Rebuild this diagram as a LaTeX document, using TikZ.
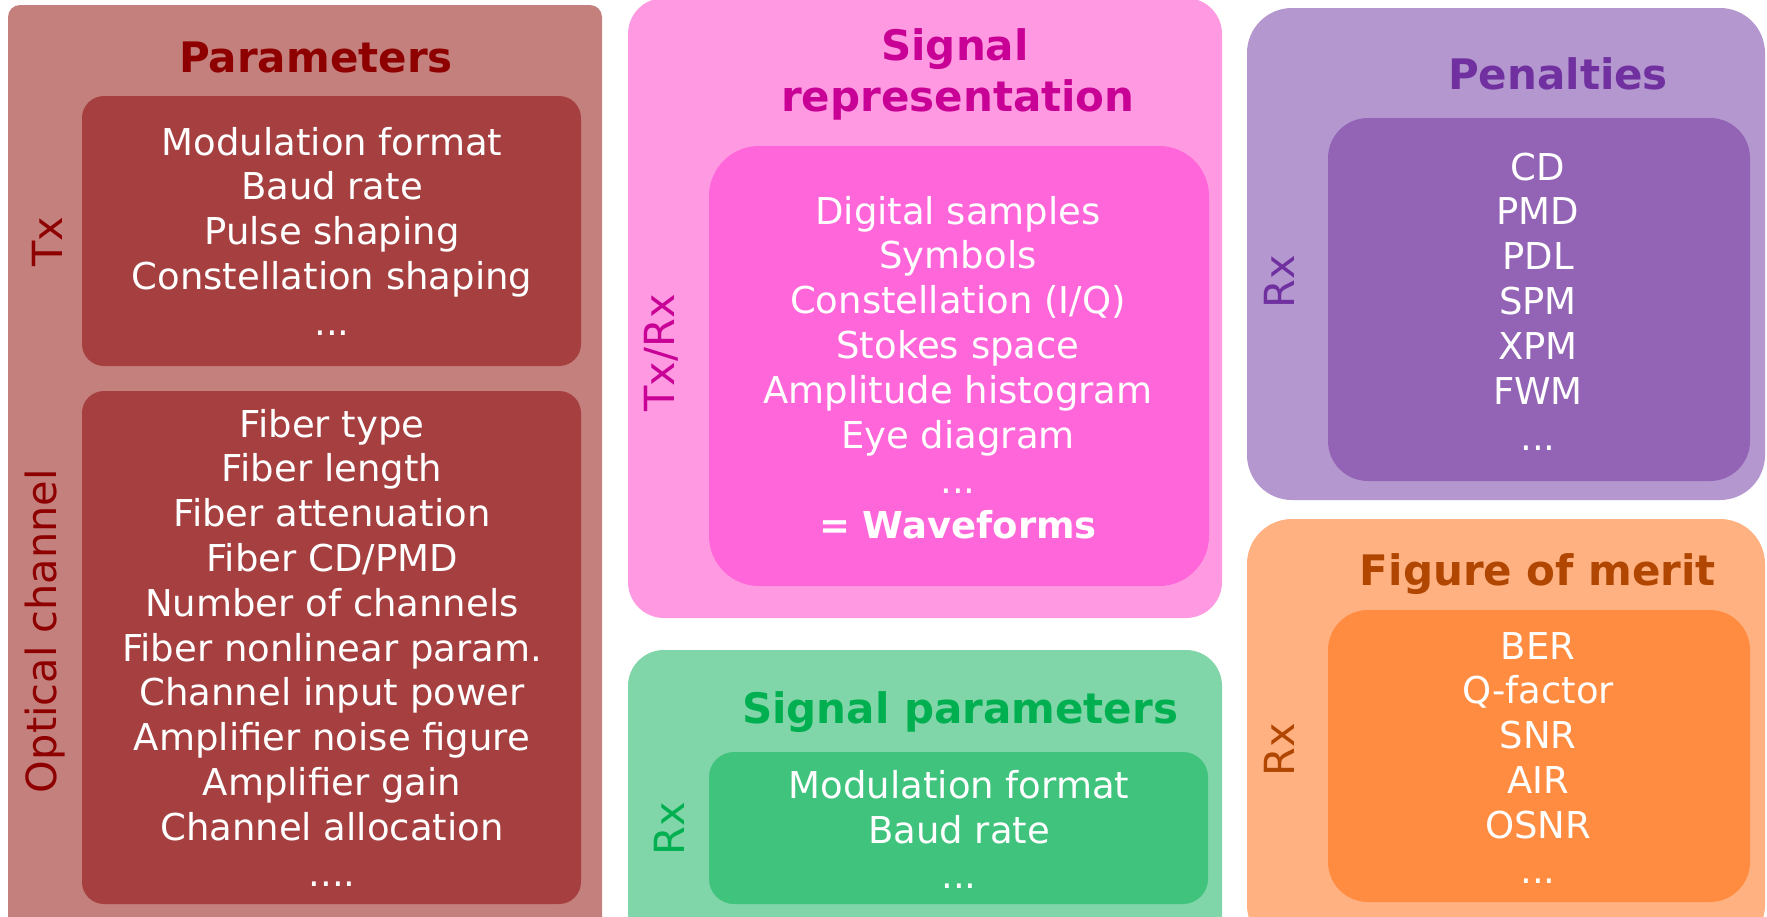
\documentclass[tikz,border=0pt]{standalone}
\usepackage{fontspec}
\setmainfont{DejaVu Sans}
\definecolor{pOut}{HTML}{C4807D}
\definecolor{pIn}{HTML}{A63F40}
\definecolor{pTxt}{HTML}{8E0000}
\definecolor{sOut}{HTML}{FF9AE2}
\definecolor{sIn}{HTML}{FF66D9}
\definecolor{sTxt}{HTML}{C80096}
\definecolor{gOut}{HTML}{80D6A8}
\definecolor{gIn}{HTML}{40C37D}
\definecolor{gTxt}{HTML}{00B050}
\definecolor{vOut}{HTML}{B497CF}
\definecolor{vIn}{HTML}{9364B5}
\definecolor{vTxt}{HTML}{7030A0}
\definecolor{oOut}{HTML}{FFB182}
\definecolor{oIn}{HTML}{FF8C40}
\definecolor{oTxt}{HTML}{B04600}
\tikzset{
  body/.style={text=white, font=\fontsize{37}{44}\selectfont, anchor=base, inner sep=0pt},
  bodybold/.style={text=white, font=\bfseries\fontsize{37}{44}\selectfont, anchor=base, inner sep=0pt},
  ttl/.style={font=\bfseries\fontsize{42}{50}\selectfont, anchor=base, inner sep=0pt},
  side/.style={font=\fontsize{41.5}{48}\selectfont, rotate=90, inner sep=0pt},
}
\begin{document}
\begin{tikzpicture}[x=1pt,y=-1pt]
\useasboundingbox (0,0) rectangle (1767,916);
\clip (0,0) rectangle (1767,916);
\fill[white] (0,0) rectangle (1767,916);

% ---------- Parameters ----------
\fill[pOut, rounded corners=12] (8,5) rectangle (602,940);
\fill[pIn, rounded corners=22] (82,96) rectangle (581,366);
\fill[pIn, rounded corners=22] (82,391) rectangle (581,904);
\node[ttl, text=pTxt] (ptitle) at (316,72) {Parameters};
\node[side, text=pTxt] (ptx) at (47,242) {Tx};
\node[side, text=pTxt] (popt) at (45,631) {Optical channel};
\foreach \t [count=\i from 0] in {Modulation format, Baud rate, Pulse shaping, Constellation shaping}
  \node[body] (tx\i) at (332,155+44.8*\i) {\t};
\node[body] (txdots) at (332,335) {...};
\foreach \t [count=\i from 0] in {Fiber type, Fiber length, Fiber attenuation, Fiber CD/PMD, Number of channels, Fiber nonlinear param., Channel input power, Amplifier noise figure, Amplifier gain, Channel allocation}
  \node[body] (oc\i) at (332,437+44.8*\i) {\t};
\node[body] (ocdots) at (332,886) {....};

% ---------- Signal representation ----------
\fill[sOut, rounded corners=36] (628,-2) rectangle (1222,618);
\fill[sIn, rounded corners=50] (709,146) rectangle (1209,586);
\node[ttl, text=sTxt] (stitle1) at (955,60) {Signal};
\node[ttl, text=sTxt] (stitle2) at (958,111) {representation};
\node[side, text=sTxt] (stxrx) at (661,353) {Tx/Rx};
\foreach \t [count=\i from 0] in {Digital samples, Symbols, Constellation (I/Q), Stokes space, Amplitude histogram, Eye diagram}
  \node[body] (sr\i) at (958,224+44.8*\i) {\t};
\node[body] (srdots) at (958,493) {...};
\node[bodybold] (srwave) at (958,538) {= Waveforms};

% ---------- Signal parameters ----------
\fill[gOut, rounded corners=36] (628,650) rectangle (1222,950);
\fill[gIn, rounded corners=25] (709,752) rectangle (1208,904);
\node[ttl, text=gTxt] (gtitle) at (960,723) {Signal parameters};
\node[side, text=gTxt] (grx) at (669,829) {Rx};
\node[body] (gp0) at (959,798) {Modulation format};
\node[body] (gp1) at (959,843) {Baud rate};
\node[body] (gpdots) at (959,888) {...};

% ---------- Penalties ----------
\fill[vOut, rounded corners=45] (1247,8) rectangle (1765,500);
\fill[vIn, rounded corners=40] (1328,118) rectangle (1750,481);
\node[ttl, text=vTxt] (vtitle) at (1558,89) {Penalties};
\node[side, text=vTxt] (vrx) at (1279,282) {Rx};
\foreach \t [count=\i from 0] in {CD, PMD, PDL, SPM, XPM, FWM}
  \node[body] (pe\i) at (1538,180+44.8*\i) {\t};
\node[body] (pedots) at (1538,450) {...};

% ---------- Figure of merit ----------
\fill[oOut, rounded corners=45] (1247,519) rectangle (1765,950);
\fill[oIn, rounded corners=40] (1328,610) rectangle (1750,902);
\node[ttl, text=oTxt] (otitle) at (1538,585) {Figure of merit};
\node[side, text=oTxt] (orx) at (1279,750) {Rx};
\foreach \t [count=\i from 0] in {BER, Q-factor, SNR, AIR, OSNR}
  \node[body] (fm\i) at (1538,659+44.8*\i) {\t};
\node[body] (fmdots) at (1538,883) {...};
\end{tikzpicture}
\end{document}
